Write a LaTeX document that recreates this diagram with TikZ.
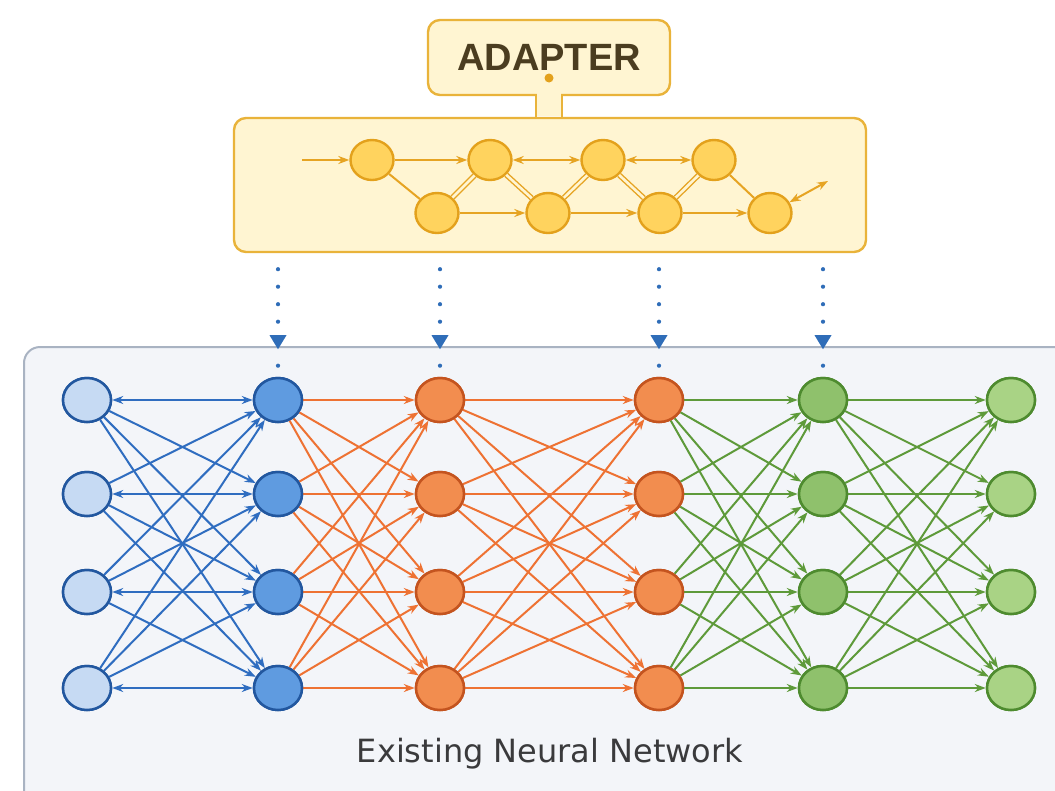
\documentclass[tikz,border=0pt]{standalone}
\usepackage{fontspec}
\setmainfont{Liberation Sans}
\newfontfamily\capfont{DejaVu Sans}
\usetikzlibrary{shapes.geometric,arrows.meta,decorations.markings,calc}

\definecolor{adfill}{HTML}{FFF5D2}
\definecolor{adline}{HTML}{E9B33A}
\definecolor{adnode}{HTML}{FFD35E}
\definecolor{adnodeline}{HTML}{E3A11C}
\definecolor{adedge}{HTML}{E6A423}
\definecolor{adtext}{HTML}{4B3D20}
\definecolor{netfill}{HTML}{F3F5F9}
\definecolor{netline}{HTML}{A9B3C2}
\definecolor{dotblue}{HTML}{2F6DB8}
\definecolor{inblue}{HTML}{C6DAF3}
\definecolor{hidblue}{HTML}{5F9BE0}
\definecolor{bluebd}{HTML}{22579F}
\definecolor{blueedge}{HTML}{2F6DC0}
\definecolor{orfill}{HTML}{F28D4F}
\definecolor{orbd}{HTML}{C4541F}
\definecolor{oredge}{HTML}{EE7233}
\definecolor{grfill}{HTML}{8FC16C}
\definecolor{grout}{HTML}{A9D385}
\definecolor{grbd}{HTML}{4E8B2F}
\definecolor{gredge}{HTML}{5E9A3A}
\definecolor{captext}{HTML}{3A3A3C}

\begin{document}
\begin{tikzpicture}[x=1pt,y=-1pt,
  neuron/.style={ellipse,minimum width=48pt,minimum height=44pt,inner sep=0pt,line width=2.5pt},
  adneuron/.style={ellipse,minimum width=43pt,minimum height=40pt,inner sep=0pt,line width=2.4pt,
    fill=adnode,draw=adnodeline},
  tip/.style={-{Stealth[length=11pt,width=8pt]}},
  bothtips/.style={{Stealth[length=11pt,width=8pt]}-{Stealth[length=11pt,width=8pt]}},
  bedge/.style={draw=blueedge,line width=2pt},
  oedge/.style={draw=oredge,line width=2pt},
  gedge/.style={draw=gredge,line width=2pt},
  aedge/.style={draw=adedge,line width=2pt},
  twin/.style={draw=adedge,double=adfill,double distance=2.6pt,line width=1.4pt},
  dotlink/.style={draw=dotblue,line width=4.2pt,line cap=round,
    dash pattern=on 0pt off 17.5pt on 0pt off 17.5pt on 0pt off 17.5pt on 0pt off 44pt on 0pt off 60pt,
    postaction={decorate,decoration={markings,
      mark=at position 79pt with {\fill[dotblue,line cap=butt] (1pt,0) -- (-13pt,-8.5pt) -- (-13pt,8.5pt) -- cycle;}}}}
]
\useasboundingbox (0,0) rectangle (1055,790);

% network panel
\draw[fill=netfill,draw=netline,line width=2pt,rounded corners=16pt] (24,347) rectangle (1090,820);

% adapter panel and its label
\node[draw=adline,fill=adfill,line width=2.4pt,rounded corners=12pt,
      minimum width=632pt,minimum height=134pt] (ad) at (550,185) {};
\node[draw=adline,fill=adfill,line width=2.4pt,rounded corners=12pt,
      minimum width=242pt,minimum height=75pt,font=\bfseries\fontsize{38}{40}\selectfont,
      text=adtext] (lbl) at (549,57.5) {ADAPTER};
% neck joining the label to the panel
\fill[adfill] ($(lbl.south)+(-12,-4)$) rectangle ($(lbl.south |- ad.north)+(12,-1.3)$);
\draw[adline,line width=2.4pt] ($(lbl.south)+(-13,-1.2)$) -- ($(lbl.south |- ad.north)+(-13,1.2)$);
\draw[adline,line width=2.4pt] ($(lbl.south)+(13,-1.2)$) -- ($(lbl.south |- ad.north)+(13,1.2)$);
\fill[adnodeline] (549,78) circle (4.5pt);

% adapter cells
\foreach \n/\x in {1/372,2/490,3/603,4/714} \node[adneuron] (t\n) at (\x,160) {};
\foreach \n/\x in {1/437,2/548,3/660,4/770} \node[adneuron] (u\n) at (\x,213) {};
\coordinate (ain) at (302,160);
\coordinate (aout) at (828,181);

\draw[aedge,tip] (ain) -- (t1);
\draw[aedge,tip] (t1) -- (t2);
\draw[aedge,bothtips] (t2) -- (t3);
\draw[aedge,bothtips] (t3) -- (t4);
\draw[aedge] (t1) -- (u1);
\draw[twin] (u1) -- (t2);
\draw[twin] (t2) -- (u2);
\draw[twin] (u2) -- (t3);
\draw[twin] (t3) -- (u3);
\draw[twin] (u3) -- (t4);
\draw[aedge] (t4) -- (u4);
\draw[aedge,tip] (u1) -- (u2);
\draw[aedge,tip] (u2) -- (u3);
\draw[aedge,tip] (u3) -- (u4);
\draw[aedge,bothtips] (u4) -- (aout);

% network layers
\foreach \i/\y in {1/400,2/494,3/592,4/688}{
  \node[neuron,fill=inblue,draw=bluebd]  (a\i) at (87,\y) {};
  \node[neuron,fill=hidblue,draw=bluebd] (b\i) at (278,\y) {};
  \node[neuron,fill=orfill,draw=orbd]    (c\i) at (440,\y) {};
  \node[neuron,fill=orfill,draw=orbd]    (d\i) at (659,\y) {};
  \node[neuron,fill=grfill,draw=grbd]    (e\i) at (823,\y) {};
  \node[neuron,fill=grout,draw=grbd]     (f\i) at (1011,\y) {};
}

% weights between consecutive layers
\foreach \i in {1,...,4}{
  \foreach \j in {1,...,4}{
    \ifnum\i=\j
      \draw[bedge,bothtips] (a\i) -- (b\j);
    \else
      \draw[bedge,tip] (a\i) -- (b\j);
    \fi
    \draw[oedge,tip] (b\i) -- (c\j);
    \draw[oedge,tip] (c\i) -- (d\j);
    \draw[gedge,tip] (d\i) -- (e\j);
    \draw[gedge,tip] (e\i) -- (f\j);
  }
}

% redraw cells on top of the weights
\foreach \i/\y in {1/400,2/494,3/592,4/688}{
  \node[neuron,fill=inblue,draw=bluebd]  at (87,\y) {};
  \node[neuron,fill=hidblue,draw=bluebd] at (278,\y) {};
  \node[neuron,fill=orfill,draw=orbd]    at (440,\y) {};
  \node[neuron,fill=orfill,draw=orbd]    at (659,\y) {};
  \node[neuron,fill=grfill,draw=grbd]    at (823,\y) {};
  \node[neuron,fill=grout,draw=grbd]     at (1011,\y) {};
}

% adapter taps into hidden layers
\foreach \n in {b1,c1,d1,e1}
  \draw[dotlink] ($(ad.south -| \n)+(0,16)$) -- ($(\n.north)+(0,-8)$);

\node[font=\capfont\fontsize{32}{35}\selectfont,text=captext] (cap) at (550,754) {Existing Neural Network};
\end{tikzpicture}
\end{document}
